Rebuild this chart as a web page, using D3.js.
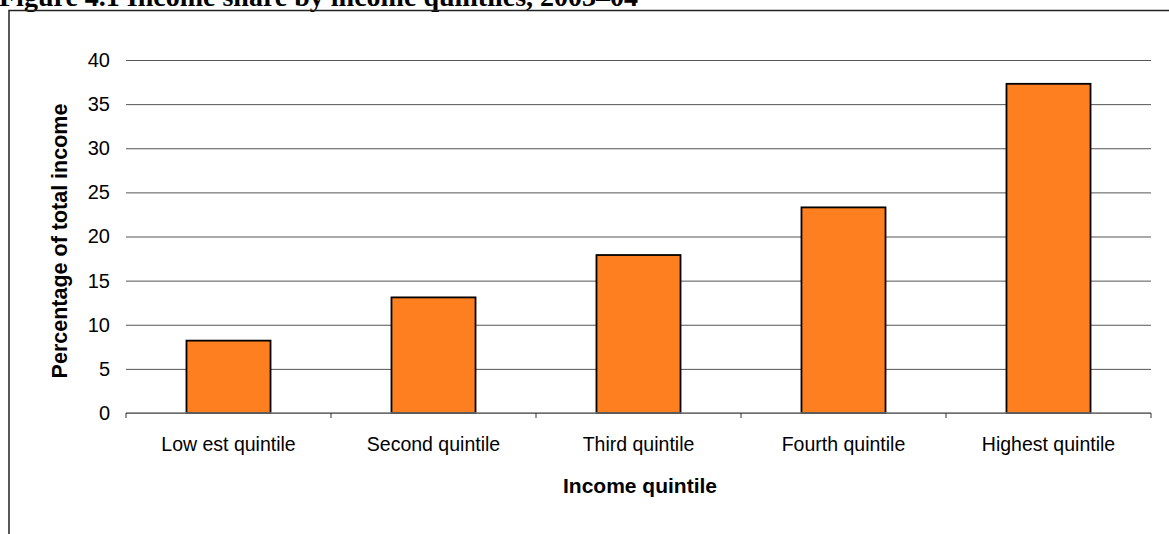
<!DOCTYPE html>
<html>
<head>
<meta charset="utf-8">
<script src="https://cdn.jsdelivr.net/npm/d3@7"></script>
<style>
  body { margin: 0; background: #fff; }
  svg text { font-family: "Liberation Sans", Arial, sans-serif; }
</style>
</head>
<body>
<div id="chart"></div>
<script>
var wd = 1169;
var ht = 534;

// data
var quintiles = ["Low est quintile", "Second quintile", "Third quintile", "Fourth quintile", "Highest quintile"];
var shares = [8.2, 13.1, 17.9, 23.3, 37.3];
var yTicks = [0, 5, 10, 15, 20, 25, 30, 35, 40];

var margin = { top: 60, right: 18, bottom: 121, left: 126 };

var svg = d3.select("#chart").append("svg").attr("width", wd).attr("height", ht);

// title, mostly cut off at the top of the page
svg.append("text")
   .attr("x", -1).attr("y", 5.5)
   .style("font-family", "'Liberation Serif', 'Times New Roman', serif")
   .style("font-weight", "bold")
   .style("font-size", "28px")
   .text("Figure 4.1 Income share by income quintiles, 2003\u201304");

// outer frame (left + top visible)
svg.append("path")
   .attr("d", "M9,534 V10.5 H1169")
   .attr("fill", "none").attr("stroke", "#222").attr("stroke-width", 1.5);

var xScale = d3.scaleBand().domain(quintiles)
               .range([margin.left, wd - margin.right])
               .paddingInner(0.59).paddingOuter(0.295);
var xOuter = d3.scaleBand().domain(quintiles).range([margin.left, wd - margin.right]);
var yScale = d3.scaleLinear().domain([0, 40]).range([ht - margin.bottom, margin.top]);

// gridlines + y labels
var yAxis = d3.axisLeft(yScale).tickValues(yTicks)
              .tickSize(-(wd - margin.left - margin.right)).tickPadding(16);
var gy = svg.append("g").attr("class", "axis y")
            .attr("transform", "translate(" + margin.left + ",0)").call(yAxis);
gy.select(".domain").remove();
gy.selectAll(".tick line").attr("stroke", "#555").attr("stroke-width", 1);
gy.selectAll(".tick text").style("font-size", "20px").attr("fill", "#000")
  .style("font-family", "'Liberation Sans', Arial, sans-serif");

// bars
svg.selectAll("rect.bar").data(shares).enter()
   .append("rect")
   .attr("class", "bar")
   .attr("x", function(d, i){ return xScale(quintiles[i]); })
   .attr("width", xScale.bandwidth())
   .attr("y", function(d){ return yScale(d); })
   .attr("height", function(d){ return yScale(0) - yScale(d); })
   .attr("fill", "#fd7f20")
   .attr("stroke", "#000").attr("stroke-width", 1.8);

// x axis line with ticks at category boundaries
var y0 = yScale(0);
svg.append("line").attr("x1", margin.left).attr("x2", wd - margin.right)
   .attr("y1", y0).attr("y2", y0).attr("stroke", "#777").attr("stroke-width", 1.5);
var bounds = quintiles.map(function(q){ return xOuter(q); }).concat([wd - margin.right]);
svg.selectAll("line.xtick").data(bounds).enter()
   .append("line").attr("class", "xtick")
   .attr("x1", function(d){ return d; }).attr("x2", function(d){ return d; })
   .attr("y1", y0).attr("y2", y0 + 5)
   .attr("stroke", "#333").attr("stroke-width", 1);

svg.selectAll("text.xlab").data(quintiles).enter()
   .append("text").attr("class", "xlab")
   .attr("x", function(d){ return xOuter(d) + xOuter.bandwidth() / 2; })
   .attr("y", 451)
   .attr("text-anchor", "middle")
   .style("font-size", "19.5px")
   .text(function(d){ return d; });

// axis titles
svg.append("text")
   .attr("x", 640).attr("y", 493)
   .attr("text-anchor", "middle")
   .style("font-size", "21px").style("font-weight", "bold")
   .text("Income quintile");

svg.append("text")
   .attr("transform", "translate(67,241) rotate(-90)")
   .attr("text-anchor", "middle")
   .style("font-size", "21.5px").style("font-weight", "bold")
   .text("Percentage of total income");
</script>
</body>
</html>
